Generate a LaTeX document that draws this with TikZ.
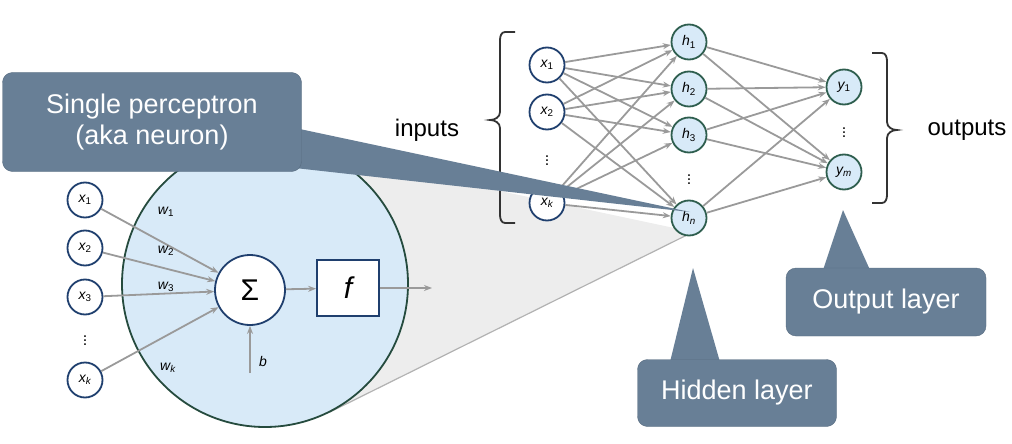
\documentclass[tikz,border=0pt]{standalone}
\usepackage{fontspec}
\setmainfont{Liberation Sans}
\usetikzlibrary{arrows.meta}
\definecolor{nodeblue}{HTML}{1F3F6E}
\definecolor{nodegreen}{HTML}{2E5E4E}
\definecolor{fillblue}{HTML}{D8EAF8}
\definecolor{call}{HTML}{687F96}
\definecolor{edge}{HTML}{9A9A9A}
\begin{document}
\begin{tikzpicture}[x=1pt,y=-1pt,
  inx/.style={circle,draw=nodeblue,line width=1.8pt,fill=white,minimum size=35pt,inner sep=0pt,font=\fontsize{14}{14}\selectfont\itshape},
  hid/.style={circle,draw=nodegreen,line width=1.8pt,fill=fillblue,minimum size=35pt,inner sep=0pt,font=\fontsize{14}{14}\selectfont\itshape},
  conn/.style={draw=edge,line width=1.8pt,-{Stealth[length=8pt,width=6pt]}},
  callout/.style={fill=call,draw=call!85!black,rounded corners=10pt,text=white,align=center,font=\fontsize{27}{31}\selectfont},
  lbl/.style={font=\fontsize{14}{14}\selectfont\itshape},
  dots/.style={inner sep=0pt,font=\fontsize{16}{16}\selectfont},
  big/.style={font=\fontsize{24}{24}\selectfont}]
\useasboundingbox (0,0) rectangle (1012,444);
\fill[black!7] (265,141) -- (693,232) -- (330,412) -- cycle;
\draw[black!30,line width=1.2pt] (693,232) -- (330,412);
\node[circle,draw=nodegreen!80!black,line width=1.8pt,fill=fillblue,minimum size=286pt] (cell) at (265,284) {};
\node[inx] (a1) at (85,200) {x\textsubscript{\upshape 1}};
\node[inx] (a2) at (85,248) {x\textsubscript{\upshape 2}};
\node[inx] (a3) at (85,297) {x\textsubscript{\upshape 3}};
\node[dots] (ad) at (85,338) {$\vdots$};
\node[inx] (ak) at (85,380) {x\textsubscript{k}};
\node[circle,draw=nodeblue,line width=1.8pt,fill=white,minimum size=70pt,font=\fontsize{30}{30}\selectfont] (sig) at (250,290) {Σ};
\node[draw=nodeblue,line width=1.8pt,fill=white,minimum width=62pt,minimum height=56pt,font=\fontsize{30}{30}\selectfont\itshape] (f) at (348,288) {f};
\coordinate (out) at (432,288);
\coordinate (b0) at (250,373);
\foreach \i in {a1,a2,a3,ak} \draw[conn] (\i) -- (sig);
\draw[conn] (sig) -- (f);
\draw[conn] (f) -- (out);
\draw[conn] (b0) -- (sig);
\node[lbl] (lb) at (263,361) {b};
\node[lbl] (w1) at (166,212) {w\textsubscript{\upshape 1}};
\node[lbl] (w2) at (166,251) {w\textsubscript{\upshape 2}};
\node[lbl] (w3) at (166,287) {w\textsubscript{\upshape 3}};
\node[lbl] (wk) at (168,368) {w\textsubscript{k}};
\node[inx] (x1) at (547,65) {x\textsubscript{\upshape 1}};
\node[inx] (x2) at (547,112) {x\textsubscript{\upshape 2}};
\node[dots] (xd) at (547,158) {$\vdots$};
\node[inx] (xk) at (547,203) {x\textsubscript{k}};
\node[hid] (h1) at (689,42) {h\textsubscript{\upshape 1}};
\node[hid] (h2) at (689,89) {h\textsubscript{\upshape 2}};
\node[hid] (h3) at (689,135) {h\textsubscript{\upshape 3}};
\node[dots] (hd) at (689,177) {$\vdots$};
\node[hid] (hn) at (689,218) {h\textsubscript{n}};
\node[hid] (y1) at (844,87) {y\textsubscript{\upshape 1}};
\node[dots] (yd) at (844,130) {$\vdots$};
\node[hid] (ym) at (844,172) {y\textsubscript{m}};
\foreach \i in {x1,x2,xk} \foreach \j in {h1,h2,h3,hn} \draw[conn] (\i) -- (\j);
\foreach \i in {h1,h2,h3,hn} \foreach \j in {y1,ym} \draw[conn] (\i) -- (\j);
\draw[black!80,line width=1.8pt] (515,32) -- (505,32) to[out=180,in=90] (500,40) -- (500,112) to[out=-90,in=0] (490,120) to[out=0,in=90] (500,128) -- (500,215) to[out=-90,in=180] (505,223) -- (515,223);
\draw[black!80,line width=1.8pt] (872,53) -- (882,53) to[out=0,in=90] (887,61) -- (887,122) to[out=-90,in=180] (897,130) to[out=180,in=90] (887,138) -- (887,195) to[out=-90,in=0] (882,203) -- (872,203);
\node[big] (inp) at (427,130) {inputs};
\node[big] (outp) at (967,130) {outputs};
\fill[call] (295,128) -- (690,212) -- (295,168) -- cycle;
\node[callout,minimum width=299pt,minimum height=99pt] (c1) at (152,122) {Single perceptron\\(aka neuron)};
\fill[call] (823,270) -- (843,210) -- (870,270) -- cycle;
\node[callout,minimum width=200pt,minimum height=68pt] (c2) at (886,302) {Output layer};
\fill[call] (670,362) -- (693,268) -- (720,362) -- cycle;
\node[callout,minimum width=199pt,minimum height=67pt] (c3) at (737,393) {Hidden layer};
\end{tikzpicture}
\end{document}
